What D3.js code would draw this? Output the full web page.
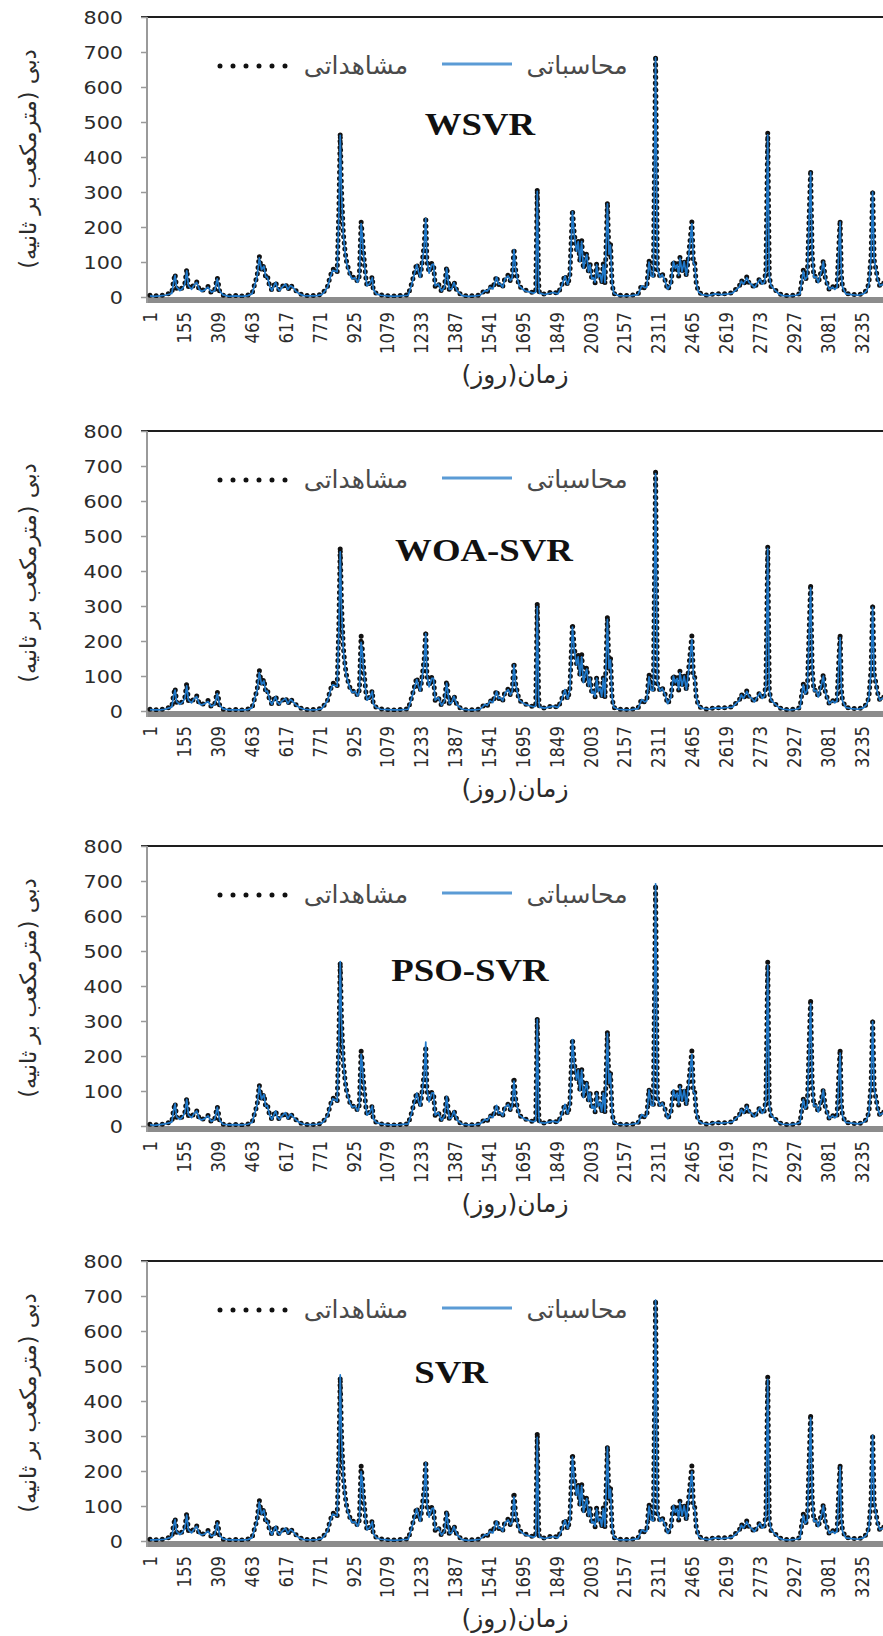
<!DOCTYPE html>
<html>
<head>
<meta charset="utf-8">
<script src="https://cdn.jsdelivr.net/npm/d3@7"></script>
<style>
  body { margin: 0; background: #fff; }
  svg { display: block; }
</style>
</head>
<body>
<svg id="chart" width="883" height="1636"></svg>
<script>
// day index of each sampled point
const days = [
  1,20,45,70,88,100,108,115,122,137,
  150,160,168,176,190,200,213,225,235,250,
  265,280,295,307,318,333,360,390,420,445,
  465,478,488,498,508,519,527,535,545,555,
  572,580,590,602,617,628,640,652,665,680,
  700,730,760,783,797,808,820,832,842,852,
  860,866,872,880,888,895,901,910,920,933,
  945,953,961,966,971,975,982,988,1000,1012,
  1016,1030,1050,1080,1110,1140,1175,1191,1200,1214,
  1222,1230,1238,1248,1255,1260,1270,1282,1290,1298,
  1312,1327,1340,1350,1355,1362,1373,1383,1398,1420,
  1450,1480,1502,1524,1535,1547,1560,1577,1586,1595,
  1605,1615,1630,1640,1648,1656,1663,1670,1680,1695,
  1706,1728,1745,1755,1762,1768,1772,1795,1815,1834,
  1856,1871,1888,1900,1910,1922,1930,1941,1948,1956,
  1964,1972,1980,1987,1995,2002,2010,2017,2025,2032,
  2040,2048,2055,2062,2070,2081,2088,2095,2102,2110,
  2130,2160,2190,2220,2237,2250,2260,2270,2280,2290,
  2300,2308,2320,2330,2343,2355,2370,2381,2390,2398,
  2405,2411,2420,2430,2440,2452,2465,2472,2478,2485,
  2495,2510,2540,2570,2600,2630,2650,2668,2680,2690,
  2700,2715,2725,2735,2750,2760,2775,2785,2795,2802,
  2810,2817,2825,2845,2860,2880,2910,2940,2957,2965,
  2972,2980,2990,3005,3012,3020,3030,3040,3055,3063,
  3070,3075,3090,3105,3115,3125,3139,3145,3150,3165,
  3190,3220,3245,3260,3270,3280,3287,3294,3302,3309,
  3320,3336,3345
];

// observed discharge (m3/s) - same in all four panels
const observed = [
  5,3,4,6,10,12,45,66,25,20,
  28,40,79,30,25,35,44,20,18,22,
  30,12,20,55,15,5,3,4,3,5,
  10,39,60,117,75,91,55,60,30,20,
  44,25,20,30,39,20,35,25,18,10,
  5,4,5,8,20,30,58,80,77,70,
  250,468,300,182,130,100,86,67,55,58,
  44,60,215,180,134,105,58,30,40,58,
  20,10,6,4,3,4,6,39,60,96,
  70,58,96,150,229,105,70,96,96,30,
  39,15,30,86,58,20,25,44,15,5,
  3,4,6,20,15,30,25,60,35,39,
  30,54,63,45,58,139,80,58,30,25,
  20,15,12,15,310,40,10,8,12,15,
  10,30,63,34,60,250,182,134,163,100,
  163,80,110,125,70,96,50,58,40,96,
  55,67,40,96,39,272,120,153,39,10,
  5,4,5,8,34,25,30,105,58,60,
  690,80,58,67,48,20,40,105,80,96,
  60,115,70,105,60,130,215,96,96,39,
  15,8,5,10,8,10,12,24,30,48,
  35,58,40,39,25,39,54,35,44,80,
  470,60,30,20,10,5,4,6,10,50,
  77,48,60,363,120,58,60,39,80,105,
  60,48,20,30,24,30,220,60,30,10,
  8,6,10,20,39,120,306,105,80,54,
  30,39,40
];

const wsvr = [
  3,2,3,5,8,10,40,62,28,18,
  25,38,75,32,22,33,42,22,16,20,
  28,14,18,52,17,6,2,3,2,4,
  9,36,58,112,78,88,58,56,32,18,
  42,27,18,28,37,22,32,27,16,9,
  4,3,4,7,18,28,55,76,74,72,
  240,462,295,178,128,98,82,64,52,55,
  42,58,210,176,130,102,56,32,38,55,
  22,9,5,3,2,3,5,36,58,92,
  72,56,92,146,224,108,68,92,94,32,
  37,17,28,82,56,22,23,41,17,4,
  2,3,5,18,17,28,23,57,37,37,
  28,52,60,47,55,135,82,56,32,23,
  18,14,11,14,302,42,11,7,10,13,
  9,28,60,36,58,244,178,130,158,102,
  158,82,106,121,72,92,52,55,42,92,
  57,64,42,92,41,266,122,148,41,11,
  4,3,4,7,32,27,28,100,60,58,
  683,82,56,64,46,22,38,101,82,92,
  62,111,72,101,62,126,210,98,92,41,
  14,7,4,9,7,9,11,22,28,45,
  37,55,42,37,27,37,51,37,42,76,
  463,62,32,18,9,4,3,5,9,47,
  74,50,58,356,122,56,58,41,76,101,
  62,46,22,28,22,28,214,62,28,9,
  7,5,9,18,37,116,300,108,78,52,
  32,37,38
];

const woaSvr = [
  4,3,3,5,9,11,42,60,27,19,
  26,37,72,31,23,34,41,21,17,21,
  27,13,19,50,16,6,3,3,3,4,
  9,37,57,110,76,86,56,57,31,19,
  41,26,19,29,36,21,33,26,17,10,
  5,3,4,7,19,29,56,75,73,71,
  236,455,290,175,125,97,84,65,53,56,
  43,57,196,172,128,100,57,31,39,56,
  21,10,5,4,3,3,5,37,57,90,
  71,57,90,144,221,106,69,93,93,31,
  38,16,29,80,57,21,24,42,16,5,
  3,3,5,19,16,29,24,56,36,38,
  29,51,61,46,56,132,81,57,31,24,
  19,15,12,14,298,41,11,8,11,14,
  10,29,61,35,59,240,176,131,155,101,
  155,81,107,120,71,93,51,56,41,93,
  56,65,41,93,40,262,121,146,40,11,
  5,3,4,7,33,26,29,98,59,59,
  678,81,57,65,47,21,39,100,81,93,
  61,110,71,100,61,124,205,97,93,40,
  15,8,5,9,8,10,11,23,29,46,
  36,56,41,38,26,38,52,36,43,77,
  465,61,31,19,10,5,3,5,9,48,
  75,49,59,352,121,57,59,40,77,100,
  61,47,21,29,23,29,210,61,29,10,
  7,5,9,19,38,115,296,106,79,53,
  31,38,39
];

const psoSvr = [
  4,2,4,6,9,11,43,63,26,19,
  27,39,76,31,24,34,43,21,17,21,
  29,13,19,53,16,5,3,4,3,5,
  10,38,59,114,77,90,56,58,31,19,
  43,26,19,29,38,21,34,26,17,10,
  5,4,5,8,19,29,57,78,75,71,
  245,470,298,180,129,99,85,66,54,57,
  43,59,205,178,132,104,57,31,39,57,
  21,10,6,4,3,4,6,38,59,94,
  71,57,94,148,240,107,69,94,95,31,
  38,16,29,84,57,21,24,43,16,5,
  3,4,6,19,16,29,24,59,36,38,
  29,53,62,46,57,128,81,57,31,24,
  19,15,12,15,305,41,10,8,11,14,
  10,29,62,35,59,247,180,132,160,101,
  160,81,108,123,71,94,51,57,41,94,
  56,66,41,94,40,265,121,150,40,10,
  5,4,5,8,33,26,29,103,59,59,
  692,81,57,66,47,21,39,103,81,94,
  61,113,71,103,61,128,205,97,94,40,
  15,8,5,10,8,10,12,23,29,47,
  36,57,41,38,26,38,53,36,43,78,
  460,61,31,19,10,5,4,6,10,49,
  76,49,59,350,121,57,59,40,78,103,
  61,47,21,29,23,29,208,61,29,10,
  8,6,10,19,38,118,298,106,79,53,
  31,38,39
];

const svr = [
  3,3,4,5,9,11,41,61,27,18,
  26,38,74,32,23,33,42,21,17,20,
  28,14,18,52,16,6,3,3,3,4,
  9,37,58,111,77,88,57,57,32,18,
  42,27,18,28,37,22,33,27,16,9,
  4,3,4,7,18,28,56,77,74,72,
  242,475,296,179,127,98,83,65,53,55,
  42,58,198,175,129,101,56,32,38,55,
  22,9,5,3,2,3,5,37,58,92,
  72,56,92,146,224,107,68,92,94,32,
  37,17,28,82,56,22,23,41,17,4,
  2,3,5,18,17,28,23,57,37,37,
  28,52,60,47,55,126,82,56,32,23,
  18,14,11,14,296,42,11,7,10,13,
  9,28,60,36,58,240,178,130,158,102,
  158,82,106,121,72,92,52,55,42,92,
  57,64,42,92,41,268,122,148,41,11,
  4,3,4,7,32,27,28,100,60,58,
  688,82,56,64,46,22,38,101,82,92,
  62,111,72,101,62,126,198,98,92,41,
  14,7,4,9,7,9,11,22,28,45,
  37,55,42,37,27,37,51,37,42,76,
  462,62,32,18,9,4,3,5,9,47,
  74,50,58,352,122,56,58,41,76,101,
  62,46,22,28,22,28,212,62,28,9,
  7,5,9,18,37,116,302,108,78,52,
  32,37,38
];

const modelNames = ["WSVR", "WOA-SVR", "PSO-SVR", "SVR"];
const computedSeries = [wsvr, woaSvr, psoSvr, svr];
const xTickLabels = [1,155,309,463,617,771,925,1079,1233,1387,1541,1695,1849,2003,2157,2311,2465,2619,2773,2927,3081,3235];
const yTickLabels = [0,100,200,300,400,500,600,700,800];
const legendObserved = "مشاهداتی";
const legendComputed = "محاسباتی";
const xTitle = "زمان(روز)";
const yTitle = "دبی (مترمکعب بر ثانیه)";

// layout of each panel: y of the 800 line, title centre and baseline offset
const panelTop = [17, 431, 846, 1261];
const titleX = [480, 484, 470, 451];
const titleDy = [118, 130, 135, 122];

const W = 883;
const plotLeft = 147;
const plotH = 280;
const sx = 1.15; // the source image is stretched horizontally

const svg = d3.select("#chart");
const x = d3.scaleLinear().domain([1, 3235]).range([150, 861.2]);

panelTop.forEach((top, i) => {
  const y = d3.scaleLinear().domain([0, 800]).range([top + plotH, top]);
  const g = svg.append("g").attr("class", "panel");

  // thick grey category axis
  g.append("rect")
    .attr("x", plotLeft)
    .attr("y", y(0))
    .attr("width", W - plotLeft)
    .attr("height", 6)
    .attr("fill", "#8c8c8c");

  // top line at 800
  g.append("line")
    .attr("x1", 141).attr("x2", W)
    .attr("y1", y(800)).attr("y2", y(800))
    .attr("stroke", "#1e1e1e")
    .attr("stroke-width", 2);

  // value axis
  const yAxis = d3.axisLeft(y).tickValues(yTickLabels).tickSize(6).tickSizeOuter(0);
  const ya = g.append("g")
    .attr("transform", `translate(${plotLeft},0)`)
    .call(yAxis);
  ya.select(".domain").attr("stroke", "#9a9a9a").attr("stroke-width", 2)
    .attr("d", `M0,${y(800)}V${y(0) + 6}`);
  ya.selectAll(".tick line").attr("stroke", "#9a9a9a").attr("stroke-width", 1.5);
  ya.selectAll(".tick text")
    .attr("x", -24 / sx)
    .attr("dy", "0.36em")
    .attr("transform", `scale(${sx},1)`)
    .attr("fill", "#2b2b2b")
    .style("font-family", "DejaVu Sans")
    .style("font-size", "18px");

  // category labels, rotated
  const xAxis = d3.axisBottom(x).tickValues(xTickLabels).tickSize(0).tickFormat(d3.format("d"));
  const xa = g.append("g")
    .attr("transform", `translate(0,${y(0)})`)
    .call(xAxis);
  xa.select(".domain").remove();
  xa.selectAll(".tick text")
    .attr("transform", `scale(${sx},1) rotate(-90)`)
    .attr("text-anchor", "end")
    .attr("x", -15)
    .attr("y", 0)
    .attr("dy", "0.36em")
    .attr("fill", "#2b2b2b")
    .style("font-family", "DejaVu Sans")
    .style("font-size", "16.5px");

  // axis titles
  g.append("text")
    .attr("x", 515)
    .attr("y", y(0) + 86)
    .attr("text-anchor", "middle")
    .attr("direction", "rtl")
    .attr("fill", "#2b2b2b")
    .style("font-family", "DejaVu Sans")
    .style("font-size", "25px")
    .text(xTitle);

  g.append("text")
    .attr("transform", `translate(36,${top + 142}) rotate(-90)`)
    .attr("text-anchor", "middle")
    .attr("direction", "rtl")
    .attr("fill", "#2b2b2b")
    .style("font-family", "DejaVu Sans")
    .style("font-size", "22.5px")
    .text(yTitle);

  // series
  const clipId = `clip${i}`;
  g.append("clipPath").attr("id", clipId)
    .append("rect")
    .attr("x", plotLeft).attr("y", top - 4)
    .attr("width", W - plotLeft).attr("height", plotH + 5);

  const comp = computedSeries[i];
  const line = d3.line()
    .defined(d => d.v != null)
    .x(d => x(d.day))
    .y(d => y(d.v));

  const plot = g.append("g").attr("clip-path", `url(#${clipId})`);

  // observed: round black dots
  plot.append("path")
    .datum(days.map((d, k) => ({ day: d, v: observed[k] })))
    .attr("fill", "none")
    .attr("stroke", "#111")
    .attr("stroke-width", 5)
    .attr("stroke-linecap", "round")
    .attr("stroke-dasharray", "0 6.2")
    .attr("d", line);

  // computed: thin blue line drawn over the dots
  plot.append("path")
    .datum(days.map((d, k) => ({ day: d, v: comp[k] })))
    .attr("fill", "none")
    .attr("stroke", "#1f78c9")
    .attr("stroke-width", 1.7)
    .attr("stroke-linejoin", "round")
    .attr("d", line);

  // legend
  const ly = top + 49;
  g.append("line")
    .attr("x1", 220).attr("x2", 286)
    .attr("y1", ly).attr("y2", ly)
    .attr("stroke", "#111")
    .attr("stroke-width", 5)
    .attr("stroke-linecap", "round")
    .attr("stroke-dasharray", "0 13");
  g.append("text")
    .attr("x", 356).attr("y", ly + 8)
    .attr("text-anchor", "middle")
    .attr("direction", "rtl")
    .attr("fill", "#4a4a4a")
    .style("font-family", "DejaVu Sans")
    .style("font-size", "25px")
    .text(legendObserved);
  g.append("line")
    .attr("x1", 442).attr("x2", 512)
    .attr("y1", ly - 2).attr("y2", ly - 2)
    .attr("stroke", "#5b9bd5")
    .attr("stroke-width", 3);
  g.append("text")
    .attr("x", 577).attr("y", ly + 8)
    .attr("text-anchor", "middle")
    .attr("direction", "rtl")
    .attr("fill", "#4a4a4a")
    .style("font-family", "DejaVu Sans")
    .style("font-size", "25px")
    .text(legendComputed);

  // model title
  g.append("text")
    .attr("transform", `translate(${titleX[i]},${top + titleDy[i]}) scale(${sx},1)`)
    .attr("text-anchor", "middle")
    .attr("fill", "#111")
    .style("font-family", "Liberation Serif")
    .style("font-weight", "bold")
    .style("font-size", "32px")
    .text(modelNames[i]);
});
</script>
</body>
</html>
